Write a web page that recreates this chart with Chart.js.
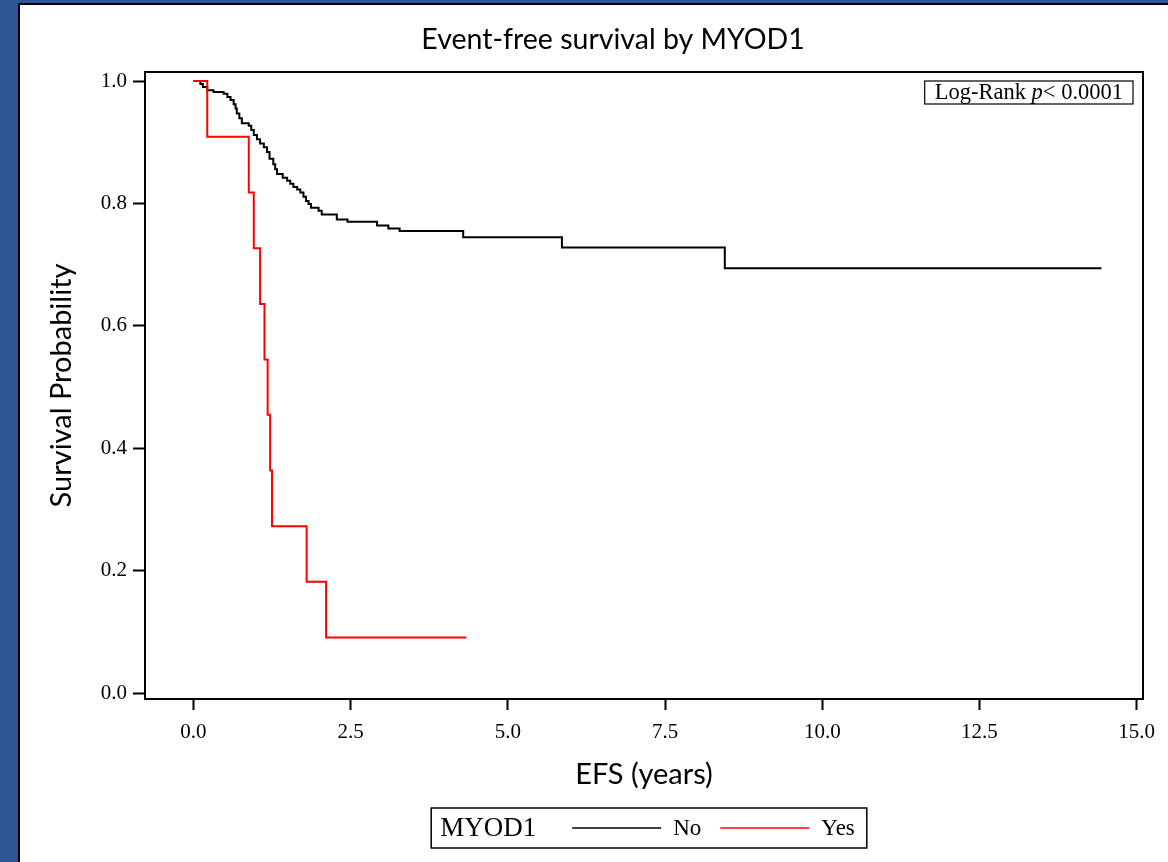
<!DOCTYPE html>
<html>
<head>
<meta charset="utf-8">
<title>Event-free survival by MYOD1</title>
<script src="https://cdn.jsdelivr.net/npm/chart.js@4.4.0/dist/chart.umd.min.js"></script>
<style>
  html, body { margin: 0; padding: 0; }
  body { width: 1168px; height: 862px; background: #2f5597; position: relative; overflow: hidden; }
  #panel { position: absolute; left: 18px; top: 3px; width: 1150px; height: 859px; background: #fff;
           border-left: 2px solid #000; border-top: 2px solid #000; box-sizing: border-box; }
  #wrap { position: absolute; left: 0; top: 0; width: 1168px; height: 862px; }
</style>
</head>
<body>
<div id="panel"></div>
<div id="wrap"><canvas id="km"></canvas></div>
<script>
// Kaplan-Meier steps (years, survival probability)
const noTimes = [0, 0.11, 0.15, 0.22, 0.32, 0.48, 0.54, 0.59, 0.64, 0.67, 0.69, 0.73, 0.77, 0.88, 0.92, 0.96,
                 1.01, 1.06, 1.12, 1.17, 1.21, 1.27, 1.30, 1.33, 1.42, 1.49, 1.54, 1.59, 1.65, 1.70, 1.75, 1.79,
                 1.83, 1.87, 1.99, 2.04, 2.28, 2.45, 2.92, 3.10, 3.28, 4.29, 5.86, 8.45, 14.44];
const noSurv = [1.0, 0.995, 0.990, 0.985, 0.982, 0.979, 0.974, 0.969, 0.962, 0.955, 0.947, 0.939, 0.931, 0.927, 0.920, 0.912,
                0.905, 0.898, 0.892, 0.884, 0.873, 0.864, 0.856, 0.848, 0.842, 0.837, 0.832, 0.827, 0.823, 0.818, 0.811, 0.804,
                0.799, 0.793, 0.788, 0.782, 0.774, 0.770, 0.764, 0.759, 0.755, 0.745, 0.728, 0.694, 0.694];

const yesTimes = [0, 0.22, 0.88, 0.96, 1.06, 1.13, 1.18, 1.22, 1.25, 1.80, 2.11, 4.34];
const yesSurv = [1.0, 0.909, 0.818, 0.727, 0.636, 0.545, 0.455, 0.364, 0.273, 0.182, 0.091, 0.091];

const xTicks = [0, 2.5, 5, 7.5, 10, 12.5, 15];
const yTicks = [0, 0.2, 0.4, 0.6, 0.8, 1.0];

const groupName = 'MYOD1';
const pText = ['Log-Rank ', 'p', '< 0.0001'];

const serif = '"Liberation Serif", "Times New Roman", serif';
const sans = 'Lato, "Open Sans", sans-serif';

function toPoints(ts, ss) {
    return ts.map((t, i) => ({ x: t, y: ss[i] }));
}

// top/right edges of the plot frame
const frame = {
    id: 'frame',
    afterDraw(chart) {
        const a = chart.chartArea, ctx = chart.ctx;
        ctx.save();
        ctx.strokeStyle = '#000';
        ctx.lineWidth = 2;
        ctx.strokeRect(a.left, a.top, a.right - a.left, a.bottom - a.top);
        ctx.restore();
    }
};

// boxed log-rank note in the top right corner
const pNote = {
    id: 'pNote',
    afterDraw(chart) {
        const a = chart.chartArea, ctx = chart.ctx;
        ctx.save();
        const reg = '22.5px ' + serif, ita = 'italic 22.5px ' + serif;
        ctx.font = reg;
        const w1 = ctx.measureText(pText[0]).width;
        const w3 = ctx.measureText(pText[2]).width;
        ctx.font = ita;
        const w2 = ctx.measureText(pText[1]).width;
        const pad = 10, h = 23;
        const boxW = w1 + w2 + w3 + pad * 2;
        const right = a.right - 10, top = a.top + 9;
        const left = right - boxW;
        ctx.fillStyle = '#fff';
        ctx.fillRect(left, top, boxW, h);
        ctx.strokeStyle = '#000';
        ctx.lineWidth = 1.2;
        ctx.strokeRect(left, top, boxW, h);
        ctx.fillStyle = '#000';
        ctx.textBaseline = 'middle';
        ctx.textAlign = 'left';
        const cy = top + h / 2 + 1;
        ctx.font = reg;
        ctx.fillText(pText[0], left + pad, cy);
        ctx.font = ita;
        ctx.fillText(pText[1], left + pad + w1, cy);
        ctx.font = reg;
        ctx.fillText(pText[2], left + pad + w1 + w2, cy);
        ctx.restore();
    }
};

// boxed legend under the x axis title
const groupLegend = {
    id: 'groupLegend',
    afterDraw(chart) {
        const a = chart.chartArea, ctx = chart.ctx;
        const sets = chart.data.datasets;
        const titleFont = '27px ' + serif, itemFont = '23px ' + serif;
        const sample = 89, gapTitle = 36, gapLabel = 12, gapItem = 19, padL = 9, padR = 12;
        ctx.save();
        ctx.font = titleFont;
        const tw = ctx.measureText(groupName).width;
        ctx.font = itemFont;
        const lw = sets.map(d => ctx.measureText(d.label).width);
        let total = padL + tw + gapTitle + padR;
        lw.forEach((w, i) => { total += sample + gapLabel + w + (i < lw.length - 1 ? gapItem : 0); });
        const h = 40, top = 808;
        const left = (a.left + a.right) / 2 + 5 - total / 2;
        ctx.strokeStyle = '#000';
        ctx.lineWidth = 1.5;
        ctx.strokeRect(left, top, total, h);
        const cy = top + h / 2 + 1;
        ctx.fillStyle = '#000';
        ctx.textBaseline = 'middle';
        ctx.textAlign = 'left';
        ctx.font = titleFont;
        ctx.fillText(groupName, left + padL, cy);
        let x = left + padL + tw + gapTitle;
        ctx.font = itemFont;
        sets.forEach((d, i) => {
            ctx.strokeStyle = d.borderColor;
            ctx.lineWidth = 1.5;
            ctx.beginPath();
            ctx.moveTo(x, cy - 1);
            ctx.lineTo(x + sample, cy - 1);
            ctx.stroke();
            x += sample + gapLabel;
            ctx.fillStyle = '#000';
            ctx.fillText(d.label, x, cy);
            x += lw[i] + gapItem;
        });
        ctx.restore();
    }
};

const ctx = document.getElementById('km');

new Chart(ctx, {
    type: 'line',
    data: {
        datasets: [{
            label: 'No',
            data: toPoints(noTimes, noSurv),
            borderColor: '#000000',
            borderWidth: 2,
            stepped: true,
            pointRadius: 0,
            fill: false,
            order: 1
        },
        {
            label: 'Yes',
            data: toPoints(yesTimes, yesSurv),
            borderColor: '#ff0000',
            borderWidth: 2,
            stepped: true,
            pointRadius: 0,
            fill: false,
            order: 0
        }]
    },
    options: {
        responsive: true,
        maintainAspectRatio: false,
        animation: false,
        layout: { padding: { left: 83, right: 25, top: 4, bottom: 63 } },
        plugins: {
            legend: { display: false },
            tooltip: { enabled: false },
            title: {
                display: true,
                text: 'Event-free survival by MYOD1',
                color: '#000',
                font: { family: sans, size: 28.5, weight: 'normal' },
                padding: { top: 18.9, bottom: 14.9 }
            }
        },
        scales: {
            x: {
                type: 'linear',
                min: -0.77,
                max: 15.1,
                afterBuildTicks: s => { s.ticks = xTicks.map(v => ({ value: v })); },
                afterFit: s => { s.height = 100; s.paddingLeft = 0; s.paddingRight = 0; },
                border: { display: true, color: '#000', width: 2 },
                grid: { drawOnChartArea: false, drawTicks: true, tickLength: 11, tickWidth: 2, tickColor: '#000' },
                ticks: {
                    color: '#000',
                    padding: 10,
                    maxRotation: 0,
                    font: { family: serif, size: 21 },
                    callback: v => Number(v).toFixed(1)
                },
                title: {
                    display: true,
                    text: 'EFS (years)',
                    color: '#000',
                    font: { family: sans, size: 29 },
                    padding: { top: 0, bottom: 6.6 }
                }
            },
            y: {
                min: -0.0093,
                max: 1.0147,
                afterBuildTicks: s => { s.ticks = yTicks.map(v => ({ value: v })); },
                afterFit: s => { s.width = 62; s.paddingTop = 0; s.paddingBottom = 0; },
                border: { display: true, color: '#000', width: 2 },
                grid: { drawOnChartArea: false, drawTicks: true, tickLength: 12, tickWidth: 2, tickColor: '#000' },
                ticks: {
                    color: '#000',
                    padding: 6,
                    font: { family: serif, size: 21 },
                    callback: v => Number(v).toFixed(1)
                },
                title: {
                    display: true,
                    text: 'Survival Probability',
                    color: '#000',
                    font: { family: sans, size: 29 },
                    padding: { top: -38.4, bottom: 0 }
                }
            }
        }
    },
    plugins: [frame, pNote, groupLegend]
});
</script>
</body>
</html>
